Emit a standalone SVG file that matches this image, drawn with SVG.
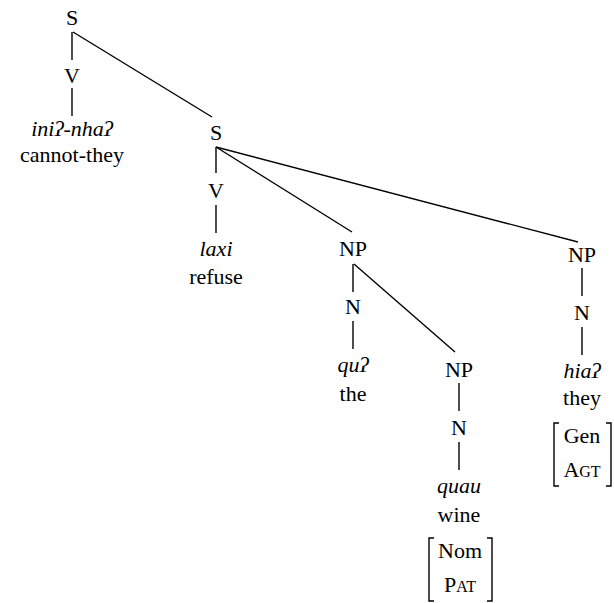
<svg xmlns="http://www.w3.org/2000/svg" width="614" height="603" viewBox="0 0 614 603" font-family="'Liberation Serif', 'Times New Roman', Times, serif">
<style>
text{font-family:"Liberation Serif","Times New Roman",Times,serif;font-size:22px;fill:#000;text-anchor:middle}
.it{font-style:italic}
.sc{font-size:16px}
.e{stroke:#000;stroke-width:1.4;fill:none}
</style>
<rect width="614" height="603" fill="#fff"/>
<g id="connectors">
<line class="e" x1="72" y1="32" x2="72" y2="60"/>
<line class="e" x1="72" y1="88" x2="72" y2="116"/>
<line class="e" x1="73" y1="32" x2="212" y2="117"/>
<line class="e" x1="216" y1="147" x2="216" y2="173"/>
<line class="e" x1="216" y1="205" x2="216" y2="233"/>
<line class="e" x1="216" y1="147" x2="352" y2="232"/>
<line class="e" x1="216" y1="147" x2="578" y2="242"/>
<line class="e" x1="353" y1="264" x2="353" y2="292"/>
<line class="e" x1="353" y1="321" x2="353" y2="349"/>
<line class="e" x1="354" y1="264" x2="455" y2="352"/>
<line class="e" x1="459" y1="383" x2="459" y2="411"/>
<line class="e" x1="459" y1="442" x2="459" y2="470"/>
<line class="e" x1="582" y1="268" x2="582" y2="296"/>
<line class="e" x1="582" y1="327" x2="582" y2="355"/>
</g>
<g id="s1"><text x="72" y="25">S</text></g>
<g id="v1"><text x="72" y="83">V</text></g>
<g id="w1"><text x="72" y="136" class="it">iniʔ-nhaʔ</text><text x="72" y="162">cannot-they</text></g>
<g id="s2"><text x="216" y="140">S</text></g>
<g id="v2"><text x="216" y="198">V</text></g>
<g id="w2"><text x="216" y="256" class="it">laxi</text><text x="216" y="284">refuse</text></g>
<g id="np1"><text x="353" y="256">NP</text></g>
<g id="n1"><text x="353" y="314">N</text></g>
<g id="w3"><text x="353" y="372" class="it">quʔ</text><text x="353" y="401">the</text></g>
<g id="np2"><text x="459" y="377">NP</text></g>
<g id="n2"><text x="459" y="435">N</text></g>
<g id="w4"><text x="459" y="493" class="it">quau</text><text x="459" y="522">wine</text>
<path class="e" d="M434,538 h-5 v63 h5 M487,538 h5 v63 h-5"/>
<text x="460" y="558">Nom</text><text x="460" y="592">P<tspan class="sc">AT</tspan></text></g>
<g id="np3"><text x="582" y="262">NP</text></g>
<g id="n3"><text x="582" y="320">N</text></g>
<g id="w5"><text x="582" y="378" class="it">hiaʔ</text><text x="582" y="405">they</text>
<path class="e" d="M559,423 h-5 v63 h5 M606,423 h5 v63 h-5"/>
<text x="582" y="443">Gen</text><text x="582" y="477">A<tspan class="sc">GT</tspan></text></g>
</svg>
